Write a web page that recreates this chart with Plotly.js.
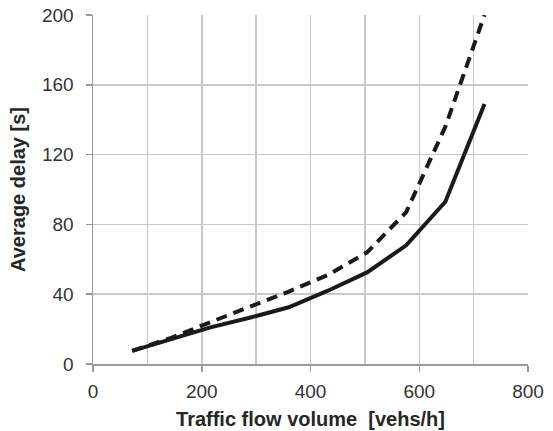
<!DOCTYPE html>
<html><head><meta charset="utf-8">
<script src="https://cdn.plot.ly/plotly-3.0.1.min.js"></script>
<style>html,body{margin:0;padding:0;background:#fff}#c{width:553px;height:431px}</style>
</head><body><div id="c"></div>
<script>
var flow = [72, 144, 216, 288, 360, 432, 504, 576, 648, 720];
var delaySolid = [7.5, 14, 21, 26.5, 32.5, 42, 52.5, 68, 93, 149];
var delayDashed = [7.5, 15, 24, 32.5, 41.5, 51, 64, 87, 136, 200];
var xTicks = [0, 200, 400, 600, 800];
var yTicks = [0, 40, 80, 120, 160, 200];

var traces = [
  {x: flow, y: delayDashed, mode: 'lines', line: {color: '#1a1a1a', width: 4, dash: '11px,7px'}, hoverinfo: 'none'},
  {x: flow, y: delaySolid, mode: 'lines', line: {color: '#1a1a1a', width: 4}, hoverinfo: 'none'}
];
var layout = {
  width: 553, height: 431,
  margin: {l: 93, r: 25, t: 15, b: 67},
  paper_bgcolor: '#fff', plot_bgcolor: '#fff',
  showlegend: false,
  font: {family: 'Liberation Sans, Arial, sans-serif', color: '#333', size: 19},
  xaxis: {
    range: [0, 800], tickvals: xTicks, ticktext: xTicks.map(String),
    showgrid: true, gridcolor: '#c8c8c8', gridwidth: 1.5,
    minor: {dtick: 100, showgrid: true, gridcolor: '#c8c8c8', gridwidth: 1.5},
    showline: true, linecolor: '#999', linewidth: 1.5,
    ticks: 'outside', ticklen: 6, tickcolor: '#999', tickwidth: 1.5,
    ticklabelstandoff: 4,
    zeroline: false,
    tickfont: {size: 19, color: '#333'},
    title: {text: '<b>Traffic flow volume  [vehs/h]</b>', font: {size: 20, color: '#262626'}, standoff: 10}
  },
  yaxis: {
    range: [0, 200], tickvals: yTicks, ticktext: yTicks.map(String),
    showgrid: true, gridcolor: '#c8c8c8', gridwidth: 1.5,
    showline: true, linecolor: '#999', linewidth: 1.5,
    ticks: 'outside', ticklen: 6, tickcolor: '#999', tickwidth: 1.5,
    ticklabelstandoff: 8,
    zeroline: false,
    tickfont: {size: 19, color: '#333'},
    title: {text: '<b>Average delay [s]</b>', font: {size: 20, color: '#262626'}, standoff: 11}
  }
};
Plotly.newPlot('c', traces, layout, {staticPlot: true, displayModeBar: false});
</script></body></html>
